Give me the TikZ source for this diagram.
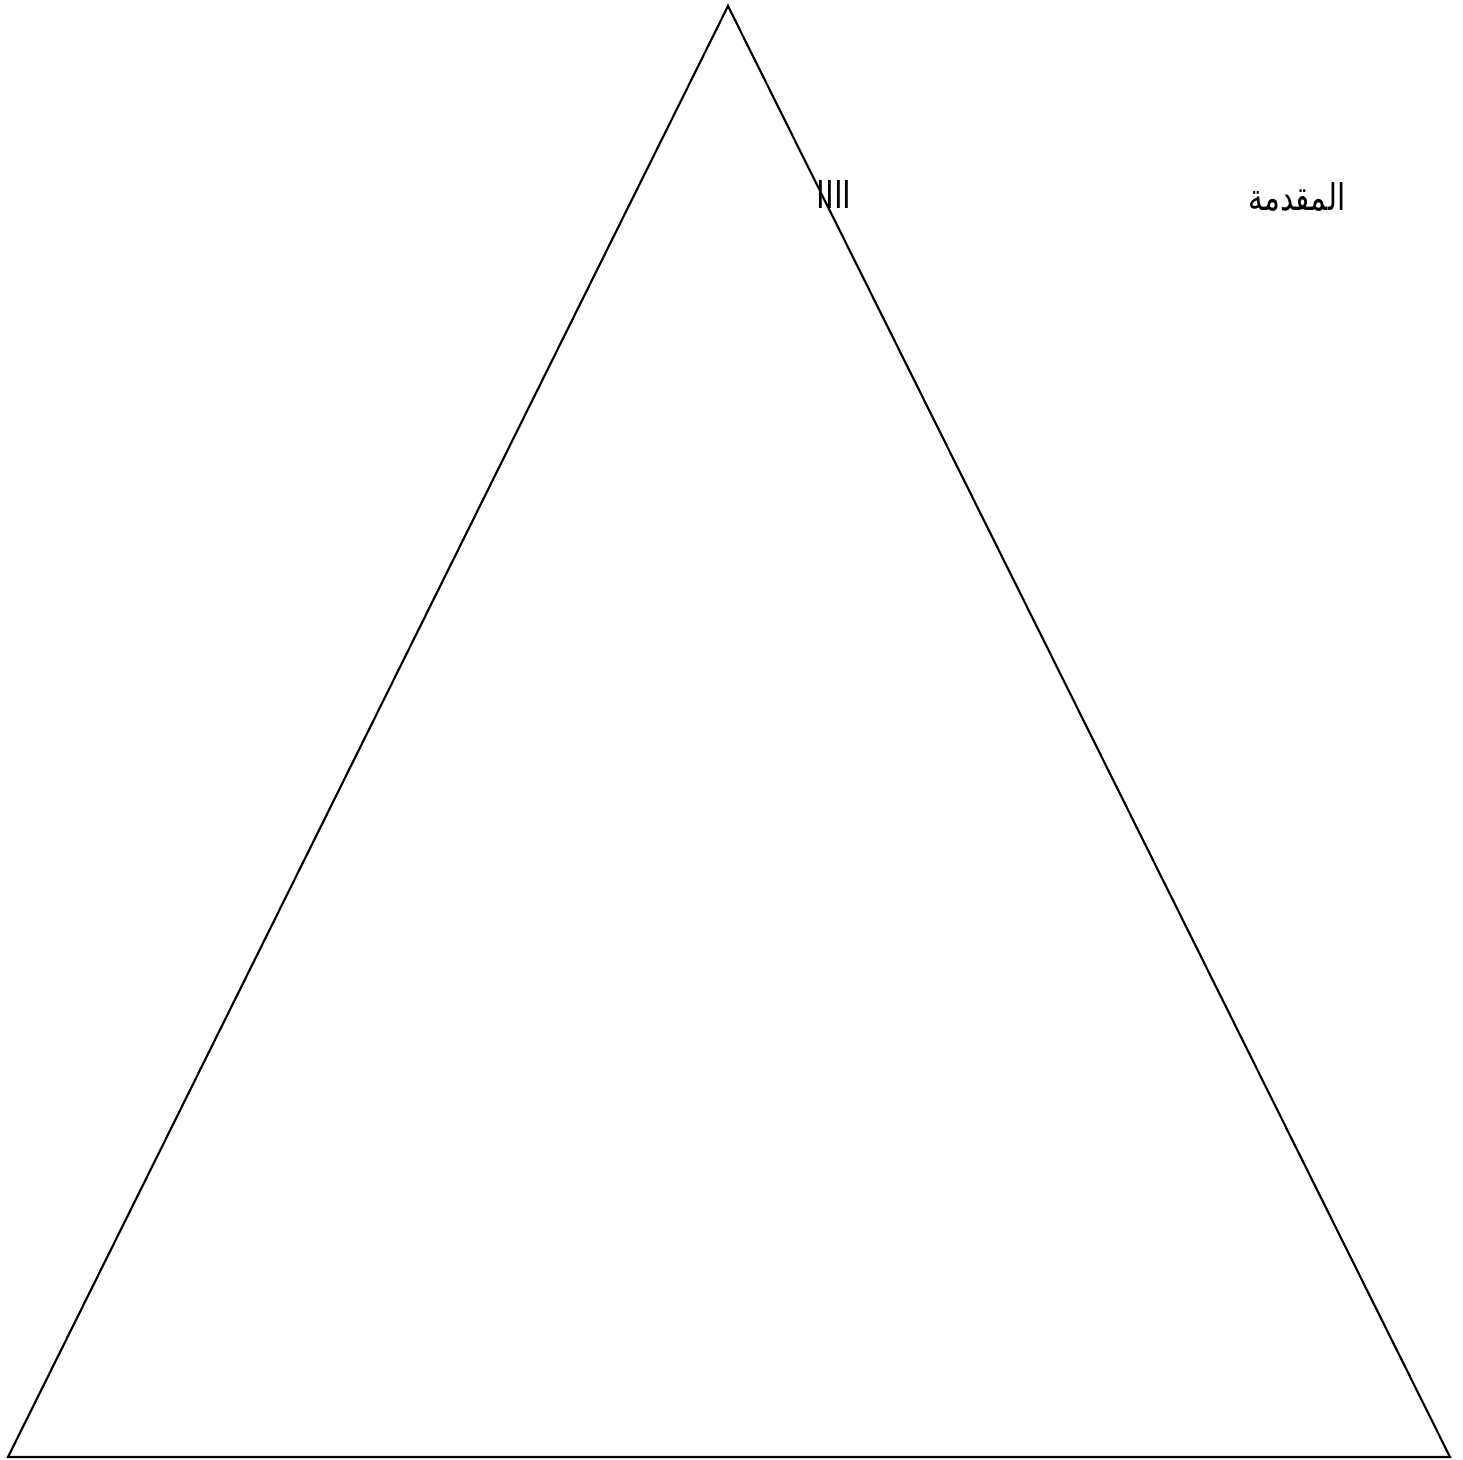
\documentclass[tikz,border=0pt]{standalone}
\usepackage{fontspec}
\usepackage{graphicx}
\newfontfamily\arabicfont[Script=Arabic]{DejaVu Sans}
\TeXXeTstate=1
\begin{document}
\begin{tikzpicture}[x=0.01cm,y=-0.01cm,
  edge/.style={line width=0.6pt, line join=miter},
  lbl/.style={font=\arabicfont\fontsize{10.5}{12}\selectfont, inner sep=0pt}]
\useasboundingbox (0,0) rectangle (1463,1460);
\coordinate (apex) at (728,6);
\coordinate (bl) at (8,1457);
\coordinate (br) at (1450,1457);
\draw[edge] (apex) -- (br) -- (bl) -- cycle;
\node[lbl] (intro) at (1297,197) {\scalebox{0.8}[1]{\beginR المقدمة\endR}};
\node[lbl] (cut) at (834,194) {\scalebox{0.85}[1]{\beginR اااا\endR}};
\end{tikzpicture}
\end{document}
